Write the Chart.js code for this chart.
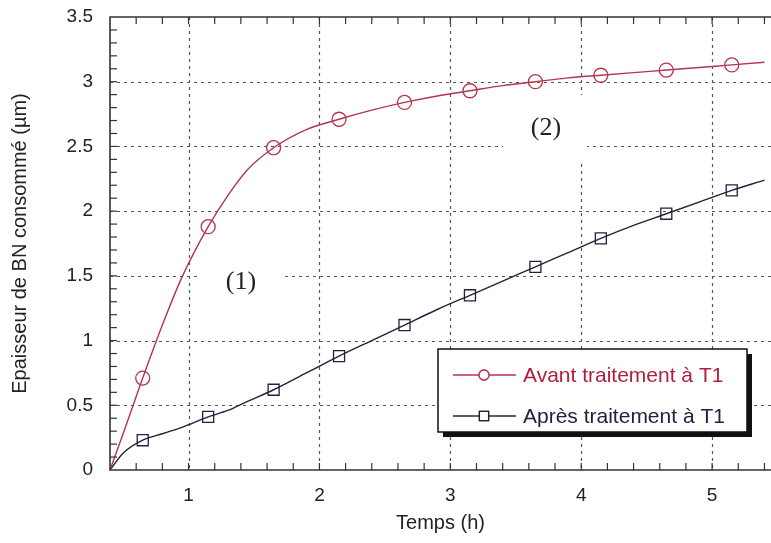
<!DOCTYPE html>
<html>
<head>
<meta charset="utf-8">
<script src="https://cdn.jsdelivr.net/npm/chart.js@4/dist/chart.umd.min.js"></script>
<style>
  html, body { margin: 0; padding: 0; background: #fff; }
  #wrap { width: 771px; height: 543px; }
</style>
</head>
<body>
<div id="wrap"><canvas id="myChart" width="771" height="543"></canvas></div>
<script>
// Données
const markerTimes = [0.65, 1.15, 1.65, 2.15, 2.65, 3.15, 3.65, 4.15, 4.65, 5.15];
const avantMarkers = [0.71, 1.88, 2.49, 2.71, 2.84, 2.93, 3.0, 3.05, 3.09, 3.13];
const apresMarkers = [0.23, 0.41, 0.62, 0.88, 1.12, 1.35, 1.57, 1.79, 1.98, 2.16];

const curveTimes = [0.4, 0.5, 0.65, 0.8, 0.95, 1.15, 1.3, 1.45, 1.65, 1.9, 2.15, 2.4, 2.65, 2.9, 3.15, 3.4, 3.65, 3.9, 4.15, 4.4, 4.65, 4.9, 5.15, 5.4];
const avantCurve = [0, 0.28, 0.71, 1.12, 1.49, 1.88, 2.12, 2.32, 2.49, 2.63, 2.71, 2.78, 2.84, 2.89, 2.93, 2.97, 3.0, 3.03, 3.05, 3.07, 3.09, 3.11, 3.13, 3.15];
const apresCurve = [0, 0.13, 0.23, 0.28, 0.33, 0.41, 0.46, 0.53, 0.62, 0.75, 0.88, 1.0, 1.12, 1.24, 1.35, 1.46, 1.57, 1.68, 1.79, 1.89, 1.98, 2.07, 2.16, 2.24];

const xTicks = [1, 2, 3, 4, 5];
const yTicks = [0, 0.5, 1, 1.5, 2, 2.5, 3, 3.5];
const legendLabels = ["Avant traitement à T1", "Après traitement à T1"];

const RED = "#b3354f";
const RED_TXT = "#b01e3c";
const DARK = "#22223e";

const pts = (xs, ys) => xs.map((x, i) => ({ x: x, y: ys[i] }));

// cadre, grille pointillée, graduations, étiquettes et légende
const framePlugin = {
  id: "frame",
  beforeDatasetsDraw(chart) {
    const { ctx, chartArea: a, scales: { x, y } } = chart;
    ctx.save();
    ctx.strokeStyle = "#555";
    ctx.lineWidth = 1.2;
    ctx.setLineDash([3, 4]);
    xTicks.forEach(v => {
      const px = Math.round(x.getPixelForValue(v)) + 0.5;
      ctx.beginPath(); ctx.moveTo(px, a.top); ctx.lineTo(px, a.bottom); ctx.stroke();
    });
    yTicks.slice(1, -1).forEach(v => {
      const py = Math.round(y.getPixelForValue(v)) + 0.5;
      ctx.beginPath(); ctx.moveTo(a.left, py); ctx.lineTo(a.right, py); ctx.stroke();
    });
    ctx.setLineDash([]);
    // étiquettes (1) et (2) sur fond blanc
    ctx.fillStyle = "#fff";
    ctx.fillRect(198, 255, 85, 50);
    ctx.fillRect(503, 95, 84, 65);
    ctx.fillStyle = "#222";
    ctx.font = "26px 'Liberation Serif', serif";
    ctx.textAlign = "center";
    ctx.textBaseline = "middle";
    ctx.fillText("(1)", 241, 282);
    ctx.fillText("(2)", 546, 128);
    ctx.restore();
  },
  afterDatasetsDraw(chart) {
    const { ctx, chartArea: a, scales: { x, y } } = chart;
    ctx.save();
    ctx.strokeStyle = "#333";
    ctx.lineWidth = 1.6;
    ctx.beginPath();
    ctx.moveTo(a.right, a.top); ctx.lineTo(a.left, a.top);
    ctx.lineTo(a.left, a.bottom); ctx.lineTo(a.right, a.bottom);
    ctx.stroke();
    ctx.lineWidth = 1.2;
    for (let i = 1; i < 35; i++) {
      const py = y.getPixelForValue(i / 10);
      ctx.beginPath(); ctx.moveTo(a.left, py); ctx.lineTo(a.left + 7, py); ctx.stroke();
    }
    for (let i = 3; i <= 27; i++) {
      const px = x.getPixelForValue(i / 5);
      ctx.beginPath();
      ctx.moveTo(px, a.bottom); ctx.lineTo(px, a.bottom - 7);
      ctx.moveTo(px, a.top); ctx.lineTo(px, a.top + 7);
      ctx.stroke();
    }
    // légende
    const bx = 438, by = 349, bw = 309, bh = 83;
    ctx.fillStyle = "#111";
    ctx.fillRect(bx + 5, by + 5, bw, bh);
    ctx.fillStyle = "#fff";
    ctx.fillRect(bx, by, bw, bh);
    ctx.strokeStyle = "#111";
    ctx.lineWidth = 1.5;
    ctx.strokeRect(bx, by, bw, bh);
    const rows = [
      { y: 375, color: RED, txt: RED_TXT, style: "circle", r: 5 },
      { y: 416, color: DARK, txt: DARK, style: "rect", r: 6.5 }
    ];
    ctx.font = "21px 'Liberation Sans', Arial, sans-serif";
    ctx.textBaseline = "middle";
    rows.forEach((row, i) => {
      ctx.strokeStyle = row.color;
      ctx.lineWidth = 1.3;
      ctx.beginPath(); ctx.moveTo(453, row.y); ctx.lineTo(516, row.y); ctx.stroke();
      ctx.fillStyle = "#fff";
      Chart.helpers.drawPoint(ctx, { pointStyle: row.style, radius: row.r, borderWidth: 1.3 }, 484, row.y);
      ctx.fill(); ctx.stroke();
      ctx.fillStyle = row.txt;
      ctx.fillText(legendLabels[i], 523, row.y + 1);
    });
    ctx.restore();
  }
};

const ctx = document.getElementById("myChart").getContext("2d");
new Chart(ctx, {
  type: "line",
  data: {
    datasets: [
      { data: pts(curveTimes, avantCurve), borderColor: RED, borderWidth: 1.4, pointRadius: 0, cubicInterpolationMode: "monotone", fill: false },
      { data: pts(curveTimes, apresCurve), borderColor: DARK, borderWidth: 1.4, pointRadius: 0, cubicInterpolationMode: "monotone", fill: false },
      { data: pts(markerTimes, avantMarkers), showLine: false, pointStyle: "circle", pointRadius: 7, pointBorderWidth: 1.3, pointBorderColor: RED, pointBackgroundColor: "rgba(0,0,0,0)" },
      { data: pts(markerTimes, apresMarkers), showLine: false, pointStyle: "rect", pointRadius: 7.8, pointBorderWidth: 1.3, pointBorderColor: DARK, pointBackgroundColor: "rgba(0,0,0,0)" }
    ]
  },
  options: {
    responsive: false,
    animation: false,
    layout: { autoPadding: false, padding: { top: 17, right: 0, left: 0, bottom: 0 } },
    plugins: { legend: { display: false }, tooltip: { enabled: false } },
    scales: {
      x: {
        type: "linear", min: 0.4, max: 5.45,
        grid: { display: false, drawTicks: false },
        border: { display: false },
        afterBuildTicks: s => { s.ticks = xTicks.map(v => ({ value: v })); },
        afterFit: s => { s.height = 73; s.paddingLeft = 0; s.paddingRight = 0; },
        ticks: { padding: 14, color: "#222", font: { family: "'Liberation Sans', Arial, sans-serif", size: 19 } },
        title: { display: true, text: "Temps (h)", color: "#222", padding: { top: 0, bottom: 8 }, font: { family: "'Liberation Sans', Arial, sans-serif", size: 20 } }
      },
      y: {
        type: "linear", min: 0, max: 3.5,
        grid: { display: false, drawTicks: false },
        border: { display: false },
        afterBuildTicks: s => { s.ticks = yTicks.map(v => ({ value: v })); },
        afterFit: s => { s.width = 110; s.paddingTop = 0; s.paddingBottom = 0; },
        ticks: {
          padding: 17, color: "#222",
          font: { family: "'Liberation Sans', Arial, sans-serif", size: 19 },
          callback: v => String(v)
        },
        title: { display: true, text: "Epaisseur de BN consommé (µm)", color: "#222", padding: { top: 8, bottom: 0 }, font: { family: "'Liberation Sans', Arial, sans-serif", size: 20 } }
      }
    }
  },
  plugins: [framePlugin]
});
</script>
</body>
</html>
